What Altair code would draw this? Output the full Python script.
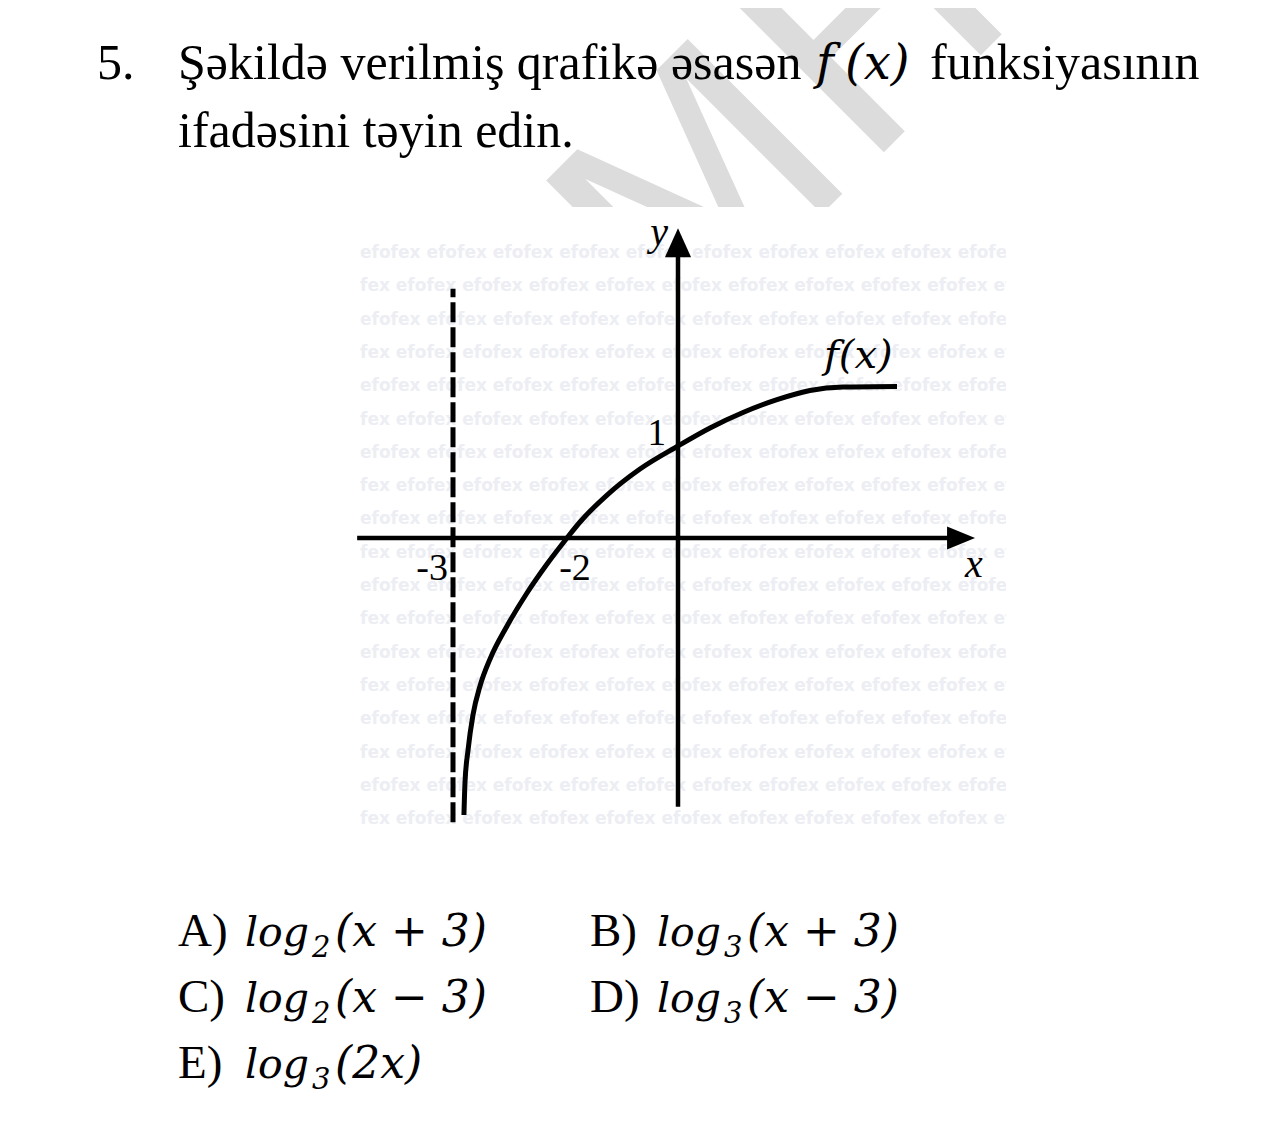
import altair as alt
import pandas as pd

# ---------------- data ----------------
curve_x = [-2.904, -2.895, -2.868, -2.825, -2.763, -2.675, -2.526, -2.351, -2.175, -2.0,
           -1.766, -1.279, -0.685, 0.0, 0.577, 1.171, 1.784, 2.378, 2.973, 3.946]
curve_y = [-3.011, -2.663, -2.304, -1.924, -1.609, -1.315, -0.957, -0.598, -0.283, 0.0,
           0.174, 0.467, 0.750, 1.0, 1.196, 1.364, 1.504, 1.604, 1.641, 1.647]
asymptote_x = [-3]
asymptote_y = [-3.09, 2.71]
x_tick_values = [-3, -2]
x_tick_labels = ["-3", "-2"]
y_tick_values = [1]
y_tick_labels = ["1"]

question_number = "5."
question_line1 = ["Şəkildə verilmiş qrafikə əsasən", "f", "(x)", "funksiyasının"]
question_line2 = "ifadəsini təyin edin."
option_letters = ["A)", "B)", "C)", "D)", "E)"]
option_bases = ["2", "3", "2", "3", "3"]
option_args = ["(x + 3)", "(x + 3)", "(x − 3)", "(x − 3)", "(2x)"]
watermark_word = "efofex"

# ---------------- layout ----------------
PL, PT = 356, 207          # page position of plot-area origin
W, H = 650, 631
xscale = alt.Scale(domain=[-3.85, -3, -2, 0, 5.91], range=[0, 97, 211, 322, 650],
                   nice=False, zero=False)
yscale = alt.Scale(domain=[-3.261, 3.598], nice=False, zero=False)
one = pd.DataFrame({"k": [0]})


def txt(s, px, py, size, font="Liberation Serif", style="normal", weight="normal",
        align="left", baseline="alphabetic", color="black", angle=0, clip=False):
    return alt.Chart(one).mark_text(
        text=s, font=font, fontSize=size, fontStyle=style, fontWeight=weight,
        align=align, baseline=baseline, color=color, angle=angle, clip=clip
    ).encode(x=alt.value(px - PL), y=alt.value(py - PT))


def X(f="x"):
    return alt.X(f"{f}:Q", scale=xscale, axis=None)


def Y(f="y"):
    return alt.Y(f"{f}:Q", scale=yscale, axis=None)


layers = []

# big diagonal watermark above the figure
layers.append(txt("MH", 680, 356, 300, font="DejaVu Sans", color="#dcdcdc", angle=315))

# white figure background covering the watermark
layers.append(alt.Chart(one).mark_rect(color="white").encode(
    x=alt.value(0), x2=alt.value(W), y=alt.value(0), y2=alt.value(H)))

# faint repeated watermark rows
for k in range(18):
    py = 253 + 33.3 * k
    s = (watermark_word + " ") * 12 if k % 2 == 0 else "fex " + (watermark_word + " ") * 12
    layers.append(txt(s, 360, py, 17, font="DejaVu Sans", weight="bold",
                      baseline="middle", color="#eceef3", clip=True))

# axes
xaxis_df = pd.DataFrame({"x": [-3.84], "x2": [4.95], "y": [0]})
layers.append(alt.Chart(xaxis_df).mark_rule(color="black", strokeWidth=4.5).encode(
    x=X(), x2="x2:Q", y=Y()))
yaxis_df = pd.DataFrame({"x": [0], "y": [-2.92], "y2": [3.1]})
layers.append(alt.Chart(yaxis_df).mark_rule(color="black", strokeWidth=4.5).encode(
    x=X(), y=Y(), y2="y2:Q"))
layers.append(alt.Chart(pd.DataFrame({"x": [5.10], "y": [0]})).mark_point(
    shape="M-1,-0.82L1,0L-1,0.82Z", size=784, filled=True, color="black", opacity=1
).encode(x=X(), y=Y()))
layers.append(alt.Chart(pd.DataFrame({"x": [0], "y": [3.21]})).mark_point(
    shape="M-0.9,1L0,-1L0.9,1Z", size=841, filled=True, color="black", opacity=1
).encode(x=X(), y=Y()))

# asymptote
asy_df = pd.DataFrame({"x": asymptote_x, "y": [asymptote_y[0]], "y2": [asymptote_y[1]]})
layers.append(alt.Chart(asy_df).mark_rule(color="black", strokeWidth=5,
                                          strokeDash=[20, 5]).encode(
    x=X(), y=Y(), y2="y2:Q"))

# curve
curve_df = pd.DataFrame({"x": curve_x, "y": curve_y})
layers.append(alt.Chart(curve_df).mark_line(color="black", strokeWidth=5,
                                            interpolate="monotone").encode(
    x=X(), y=Y(), order="x:Q"))

# tick labels
layers.append(alt.Chart(pd.DataFrame({"x": [x_tick_values[0]], "y": [0], "t": [x_tick_labels[0]]}))
              .mark_text(font="Liberation Serif", fontSize=38, align="right", dx=-5, dy=42,
                         baseline="alphabetic", color="black")
              .encode(x=X(), y=Y(), text="t:N"))
layers.append(alt.Chart(pd.DataFrame({"x": [x_tick_values[1]], "y": [0], "t": [x_tick_labels[1]]}))
              .mark_text(font="Liberation Serif", fontSize=38, align="center", dx=8, dy=42,
                         baseline="alphabetic", color="black")
              .encode(x=X(), y=Y(), text="t:N"))
layers.append(alt.Chart(pd.DataFrame({"x": [0], "y": y_tick_values, "t": y_tick_labels}))
              .mark_text(font="Liberation Serif", fontSize=37, align="right", dx=-12, dy=-1,
                         baseline="alphabetic", color="black")
              .encode(x=X(), y=Y(), text="t:N"))

# axis names and function label
layers.append(txt("x", 965, 577, 40, style="italic"))
layers.append(txt("y", 668, 245, 40, style="italic", align="right"))
layers.append(txt("f(x)", 824, 368, 40, font="DejaVu Serif", style="italic"))

# question text
layers.append(txt(question_number, 97, 79, 50))
layers.append(txt(question_line1[0], 178, 79, 50))
layers.append(txt(question_line1[1], 816, 79, 48, font="DejaVu Serif", style="italic"))
layers.append(txt(question_line1[2], 845, 79, 48, font="DejaVu Serif", style="italic"))
layers.append(txt(question_line1[3], 930, 79, 50))
layers.append(txt(question_line2, 178, 147, 50))

# answer options
col_x = [178, 590]
row_y = [946, 1012, 1078]
for i, (let, base, arg) in enumerate(zip(option_letters, option_bases, option_args)):
    cx = col_x[i % 2]
    ry = row_y[i // 2]
    layers.append(txt(let, cx, ry, 47))
    layers.append(txt("log", cx + 67, ry, 41, font="DejaVu Serif", style="italic"))
    layers.append(txt(base, cx + 134, ry + 11, 29, font="DejaVu Serif", style="italic"))
    layers.append(txt(arg, cx + 157, ry, 44, font="DejaVu Serif", style="italic"))

chart = alt.layer(*layers).properties(
    width=W, height=H,
    padding={"left": PL - 8, "top": PT - 8, "right": 1264 - (PL - 8) - W,
             "bottom": 1119 - (PT - 8) - H},
    autosize=alt.AutoSizeParams(type="none"),
    background="white",
).configure_view(stroke=None)

chart.save("out.html", embed_options={"renderer": "svg", "actions": False})
